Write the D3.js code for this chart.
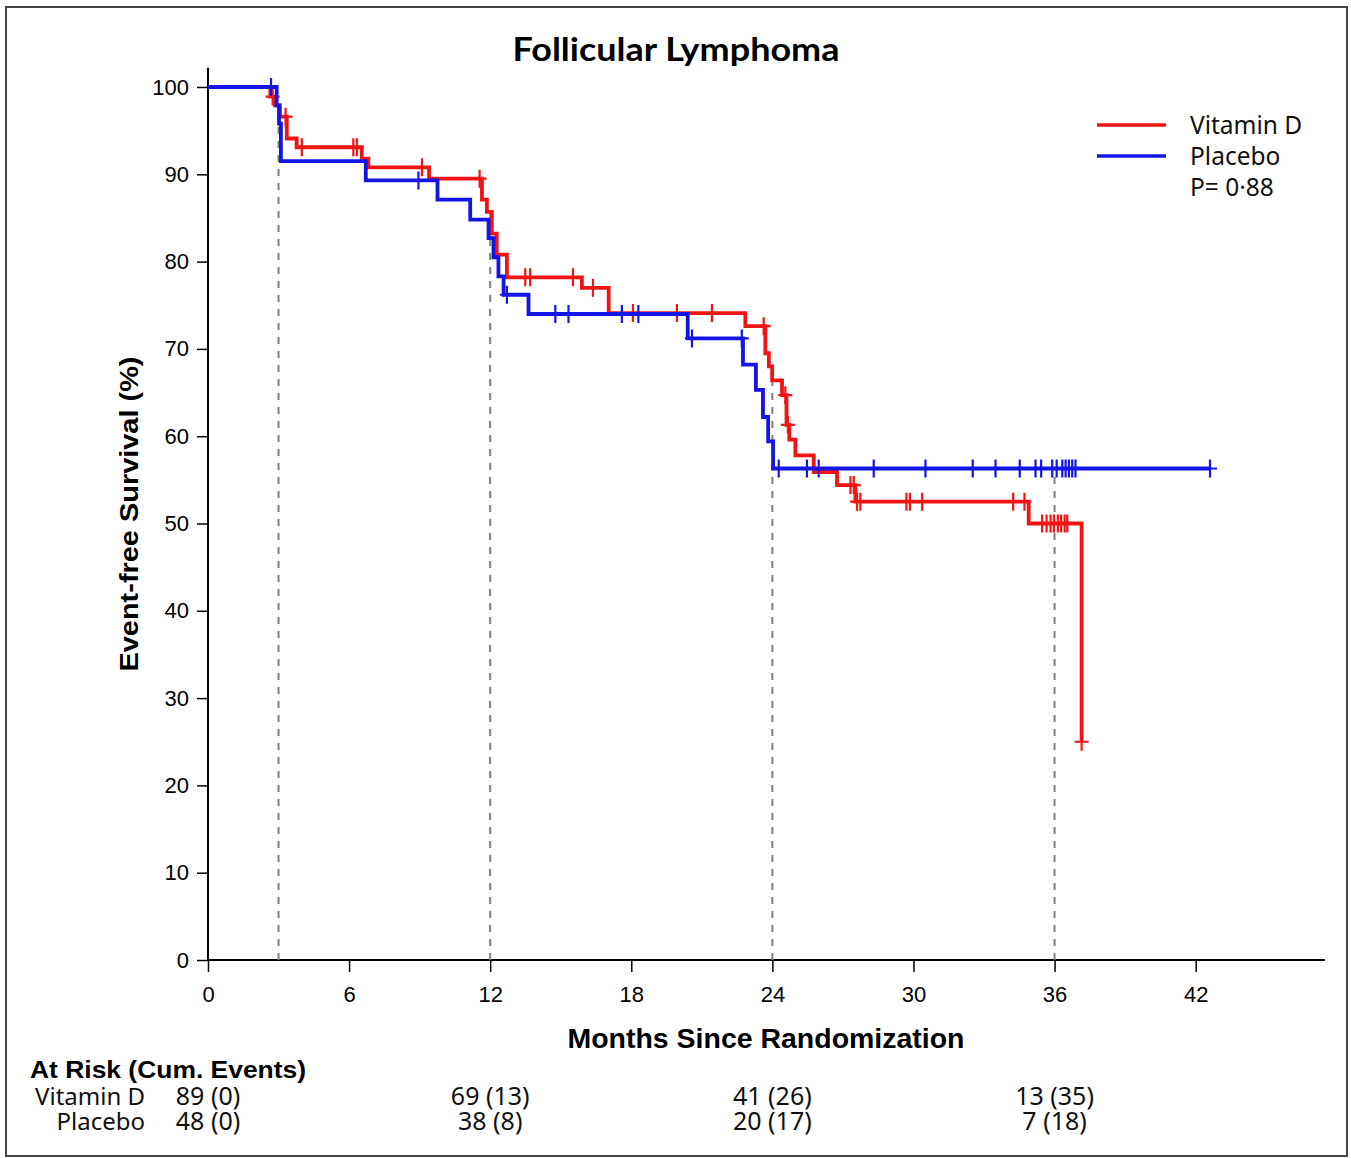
<!DOCTYPE html>
<html>
<head>
<meta charset="utf-8">
<script src="https://cdn.jsdelivr.net/npm/d3@7"></script>
<style>
  html, body { margin: 0; padding: 0; background: #fff; }
  svg { display: block; }
</style>
</head>
<body>
<svg id="chart" width="1351" height="1158"></svg>
<script>
// ---------------- DATA ----------------
const chartTitle = "Follicular Lymphoma";
const xTicks = [0, 6, 12, 18, 24, 30, 36, 42];
const yTicks = [0, 10, 20, 30, 40, 50, 60, 70, 80, 90, 100];
const seriesNames = ["Vitamin D", "Placebo"];
const pValueText = "P= 0·88";

// Vitamin D: step times (months) and survival (%) after each step
const vitaminDTimes = [0, 2.65, 2.85, 3.06, 3.35, 3.77, 6.54, 6.82, 9.4, 11.65, 11.86, 12.07, 12.28, 12.71, 15.9, 17.04, 22.85, 23.7, 23.85, 23.99, 24.41, 24.6, 24.72, 24.98, 25.76, 26.75, 27.53, 34.9, 37.15];
const vitaminDSurv  = [100, 98.9, 97.9, 96.6, 94.1, 93.1, 91.8, 90.8, 89.5, 87.1, 85.7, 83.2, 80.8, 78.2, 77.0, 74.1, 72.6, 69.5, 68.0, 66.4, 64.7, 61.3, 59.6, 57.8, 55.9, 54.4, 52.5, 50.0, 25.0];
const vitaminDCensor = [2.75, 3.3, 3.99, 6.18, 6.33, 9.1, 11.55, 13.49, 13.7, 15.52, 16.37, 18.07, 19.94, 21.43, 23.63, 24.55, 24.66, 27.32, 27.46, 27.6, 27.74, 29.7, 29.85, 30.37, 34.24, 34.72, 35.47, 35.66, 35.83, 35.97, 36.14, 36.28, 36.43, 36.54, 37.15];

// Placebo
const placeboTimes = [0, 2.92, 3.02, 3.1, 6.71, 9.76, 11.15, 11.93, 12.14, 12.35, 12.57, 13.63, 20.4, 22.75, 23.3, 23.6, 23.82, 24.03];
const placeboSurv  = [100, 97.9, 95.8, 91.5, 89.3, 87.1, 84.8, 82.7, 80.5, 78.3, 76.2, 74.0, 71.2, 68.2, 65.3, 62.2, 59.4, 56.3];
const placeboCensor = [2.68, 8.95, 12.71, 14.77, 15.33, 17.6, 18.3, 20.58, 22.7, 24.27, 25.47, 25.97, 28.31, 30.51, 32.52, 33.49, 34.52, 35.19, 35.43, 35.9, 36.09, 36.33, 36.47, 36.61, 36.75, 36.89, 42.61];

// Reference (dashed) time lines
const dashedTimes = [3, 12, 24, 36];

// At-risk table
const atRiskTimes = [0, 12, 24, 36];
const atRiskVitaminD = ["89 (0)", "69 (13)", "41 (26)", "13 (35)"];
const atRiskPlacebo  = ["48 (0)", "38 (8)", "20 (17)", "7 (18)"];

// ---------------- DRAW ----------------
const svg = d3.select("#chart");
const RED = "#f01414", BLUE = "#1414e6";
const sansBold = "'Liberation Sans', Arial, sans-serif";
const titleFont = "Lato, 'Open Sans', sans-serif";
const sansText = "'Noto Sans', 'Liberation Sans', sans-serif";

// frame
svg.append("rect").attr("x", 6).attr("y", 7).attr("width", 1341).attr("height", 1149)
  .attr("fill", "none").attr("stroke", "#444").attr("stroke-width", 2);

const x = d3.scaleLinear().domain([0, 47.5]).range([208, 1325]);
const y = d3.scaleLinear().domain([0, 100]).range([960, 87]);

// title
svg.append("text").attr("x", 676).attr("y", 61).attr("text-anchor", "middle")
  .attr("font-family", titleFont).attr("font-weight", "bold").attr("font-size", 33)
  .attr("textLength", 327).attr("lengthAdjust", "spacingAndGlyphs")
  .text(chartTitle);

// axes
const yAxis = d3.axisLeft(y).tickValues(yTicks).tickSize(11).tickPadding(8).tickFormat(d3.format("d"));
const gy = svg.append("g").attr("transform", `translate(${x(0)},0)`).call(yAxis);
gy.select(".domain").remove();
gy.append("line").attr("x1", 0).attr("x2", 0).attr("y1", y(0)).attr("y2", y(102.2))
  .attr("stroke", "#000").attr("stroke-width", 2);
gy.selectAll(".tick line").attr("stroke", "#000").attr("stroke-width", 1.5);
gy.selectAll(".tick text").attr("font-family", sansBold).attr("font-size", 22).attr("fill", "#000");

const xAxis = d3.axisBottom(x).tickValues(xTicks).tickSize(12).tickPadding(14).tickFormat(d3.format("d"));
const gx = svg.append("g").attr("transform", `translate(0,${y(0)})`).call(xAxis);
gx.select(".domain").remove();
gx.append("line").attr("x1", x(0)).attr("x2", x(47.5)).attr("y1", 0).attr("y2", 0)
  .attr("stroke", "#000").attr("stroke-width", 2);
gx.selectAll(".tick line").attr("stroke", "#000").attr("stroke-width", 1.5);
gx.selectAll(".tick text").attr("font-family", sansBold).attr("font-size", 22).attr("fill", "#000");

// axis labels
svg.append("text").attr("transform", `translate(138,514) rotate(-90)`).attr("text-anchor", "middle")
  .attr("font-family", sansBold).attr("font-weight", "bold").attr("font-size", 26)
  .attr("textLength", 315).attr("lengthAdjust", "spacingAndGlyphs")
  .text("Event-free Survival (%)");
svg.append("text").attr("x", 766).attr("y", 1048).attr("text-anchor", "middle")
  .attr("font-family", sansBold).attr("font-weight", "bold").attr("font-size", 27)
  .attr("textLength", 397).attr("lengthAdjust", "spacingAndGlyphs")
  .text("Months Since Randomization");

// step function helper
function stepValue(times, surv, t) {
  let v = surv[0];
  for (let i = 0; i < times.length; i++) { if (times[i] <= t) v = surv[i]; }
  return v;
}

// dashed reference lines
dashedTimes.forEach(t => {
  const top = Math.max(stepValue(vitaminDTimes, vitaminDSurv, t), stepValue(placeboTimes, placeboSurv, t));
  svg.append("line").attr("x1", x(t)).attr("x2", x(t)).attr("y1", y(0)).attr("y2", y(top))
    .attr("stroke", "#808080").attr("stroke-width", 2).attr("stroke-dasharray", "7,7");
});

const line = d3.line().x(d => x(d[0])).y(d => y(d[1])).curve(d3.curveStepAfter);

function drawSeries(times, surv, censor, color) {
  const pts = times.map((t, i) => [t, surv[i]]);
  const endT = d3.max(censor.concat(times));
  pts.push([endT, surv[surv.length - 1]]);
  svg.append("path").datum(pts).attr("d", line).attr("fill", "none")
    .attr("stroke", color).attr("stroke-width", 3.8).attr("stroke-linejoin", "miter");
  svg.append("g").selectAll("path").data(censor).join("path")
    .attr("d", t => {
      const cx = x(t), cy = y(stepValue(times, surv, t));
      return `M${cx - 7},${cy}H${cx + 7}M${cx},${cy - 9}V${cy + 9}`;
    })
    .attr("stroke", color).attr("stroke-width", 2.2).attr("fill", "none");
}
drawSeries(vitaminDTimes, vitaminDSurv, vitaminDCensor, RED);
drawSeries(placeboTimes, placeboSurv, placeboCensor, BLUE);

// legend
const legend = svg.append("g");
[RED, BLUE].forEach((c, i) => {
  legend.append("line").attr("x1", 1097).attr("x2", 1166).attr("y1", 125 + i * 31).attr("y2", 125 + i * 31)
    .attr("stroke", c).attr("stroke-width", 3.5);
});
[seriesNames[0], seriesNames[1], pValueText].forEach((s, i) => {
  legend.append("text").attr("x", 1190).attr("y", 134 + i * 31)
    .attr("font-family", sansText).attr("font-size", 24.5).attr("fill", "#111").text(s);
});

// at-risk table
svg.append("text").attr("x", 30).attr("y", 1078)
  .attr("font-family", sansBold).attr("font-weight", "bold").attr("font-size", 23)
  .attr("textLength", 276).attr("lengthAdjust", "spacingAndGlyphs").text("At Risk (Cum. Events)");
svg.append("text").attr("x", 145).attr("y", 1105).attr("text-anchor", "end")
  .attr("font-family", sansText).attr("font-size", 24).attr("fill", "#111").text(seriesNames[0]);
svg.append("text").attr("x", 145).attr("y", 1130).attr("text-anchor", "end")
  .attr("font-family", sansText).attr("font-size", 24).attr("fill", "#111").text(seriesNames[1]);
atRiskTimes.forEach((t, i) => {
  svg.append("text").attr("x", x(t)).attr("y", 1105).attr("text-anchor", "middle")
    .attr("font-family", sansText).attr("font-size", 25).attr("fill", "#111").text(atRiskVitaminD[i]);
  svg.append("text").attr("x", x(t)).attr("y", 1130).attr("text-anchor", "middle")
    .attr("font-family", sansText).attr("font-size", 25).attr("fill", "#111").text(atRiskPlacebo[i]);
});
</script>
</body>
</html>
